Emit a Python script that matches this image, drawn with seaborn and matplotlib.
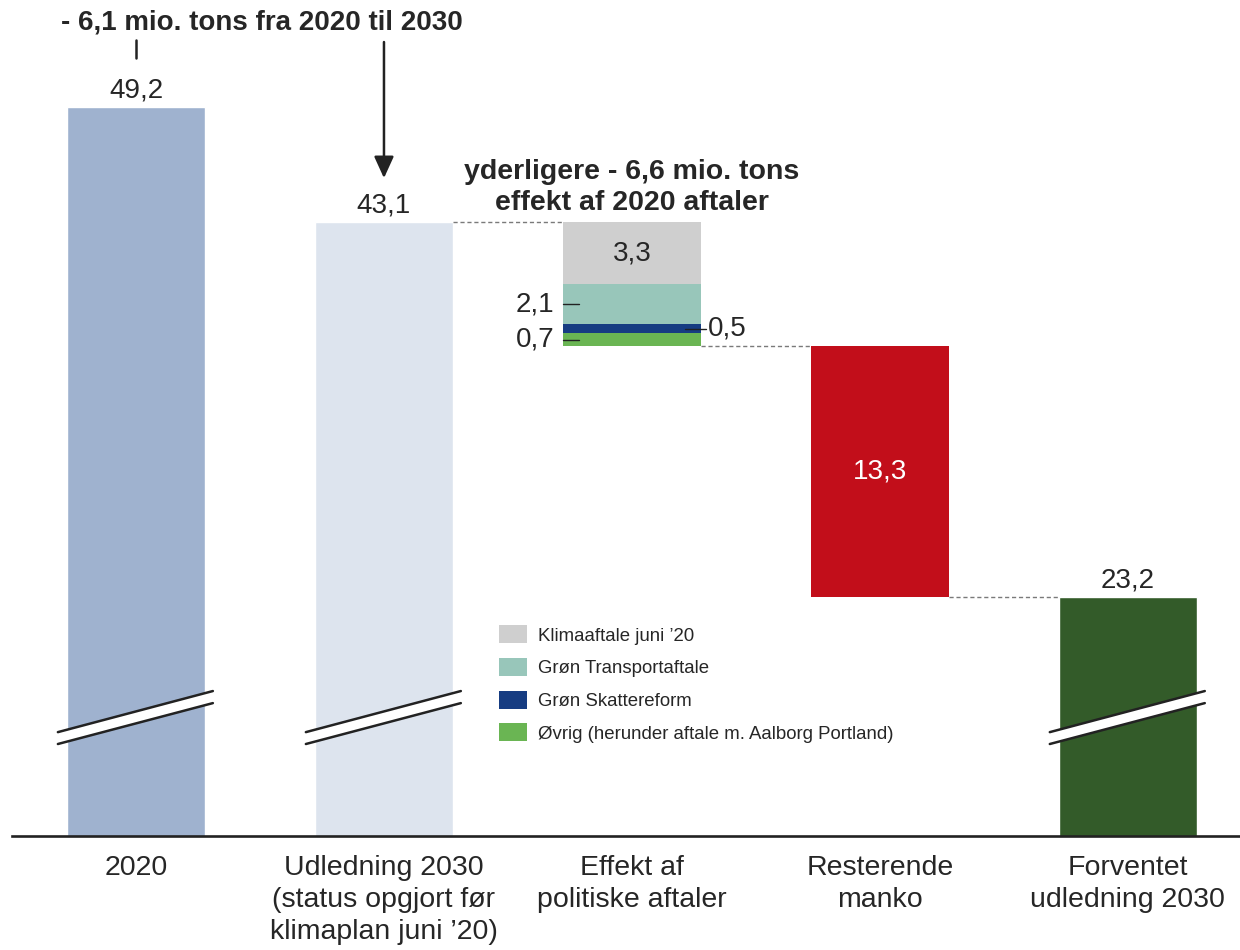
"""Vandfaldsdiagram: udledning 2020 -> forventet udledning 2030 (mio. tons CO2e)."""

import matplotlib

matplotlib.use("Agg")
import matplotlib.pyplot as plt
import pandas as pd
import seaborn as sns
from matplotlib.patches import Patch, Polygon

# --- data -----------------------------------------------------------------
categories = [
    "2020",
    "Udledning 2030\n(status opgjort før\nklimaplan juni \u201920)",
    "Effekt af\npolitiske aftaler",
    "Resterende\nmanko",
    "Forventet\nudledning 2030",
]
total_values = [49.2, 43.1, 23.2]           # 2020, 2030 før aftaler, forventet 2030
total_index = [0, 1, 4]
effect_labels = ["Klimaaftale juni \u201920", "Grøn Transportaftale",
                 "Grøn Skattereform", "Øvrig (herunder aftale m. Aalborg Portland)"]
effect_values = [3.3, 2.1, 0.5, 0.7]
manko = 13.3

total_colors = ["#9FB2CF", "#DDE4EE", "#335B29"]
effect_colors = ["#CFCFCF", "#98C6BA", "#163C82", "#6AB553"]
manko_color = "#C20E1A"
text_color = "#262626"

sns.set_theme(style="white")
plt.rcParams["font.family"] = ["Liberation Sans", "DejaVu Sans"]

fig = plt.figure(figsize=(12.4, 9.5), dpi=100)
ax = fig.add_axes([12 / 1240, 114 / 950, 1228 / 1240, 836 / 950])

BAR_W = 0.556
df = pd.DataFrame({"cat": [categories[i] for i in total_index], "value": total_values})
sns.barplot(data=df, x="cat", y="value", hue="cat", order=categories,
            palette=dict(zip(df["cat"], total_colors)), saturation=1,
            width=BAR_W, legend=False, ax=ax)

# stablede effekter (fra toppen af 2030-soejlen og nedad)
top = total_values[1]
seg_centers = []
for val, col in zip(effect_values, effect_colors):
    ax.bar(2, val, bottom=top - val, width=BAR_W, color=col, linewidth=0)
    seg_centers.append(top - val / 2)
    top -= val
effect_bottom = top
ax.bar(3, manko, bottom=effect_bottom - manko, width=BAR_W, color=manko_color, linewidth=0)

# forbindelseslinjer
levels = [(1, total_values[1]), (2, effect_bottom), (3, effect_bottom - manko)]
for i, lvl in levels:
    ax.plot([i + BAR_W / 2, i + 1 - BAR_W / 2], [lvl, lvl], color="#7a7a7a",
            lw=1, dashes=(3, 2), zorder=1)

# akse
ax.set_xlim(-0.5, 4.452)
ax.set_ylim(10.53, 54.88)
ax.set_xlabel("")
ax.set_ylabel("")
ax.set_yticks([])
ax.set_xticks(range(len(categories)), categories, fontsize=20.5, color=text_color,
              linespacing=1.28)
ax.tick_params(axis="x", length=0, pad=14)
for s in ["top", "left", "right"]:
    ax.spines[s].set_visible(False)
ax.spines["bottom"].set_color("#222222")
ax.spines["bottom"].set_linewidth(1.9)

# akse-brud
for i in total_index:
    xs = [i - 0.315, i + 0.31]
    up = [16.04, 18.22]
    lo = [15.41, 17.58]
    ax.add_patch(Polygon([(xs[0], up[0]), (xs[1], up[1]), (xs[1], lo[1]), (xs[0], lo[0])],
                         closed=True, facecolor="white", edgecolor="none", zorder=4))
    ax.plot(xs, up, color="#222222", lw=1.8, zorder=5)
    ax.plot(xs, lo, color="#222222", lw=1.8, zorder=5)

# vaerdier
VAL_FS = 20
for i, v in zip(total_index, total_values):
    ax.text(i, v + 0.5, f"{v:.1f}".replace(".", ","), ha="center", va="baseline",
            fontsize=VAL_FS, color=text_color)
ax.text(2, seg_centers[0], "3,3", ha="center", va="center", fontsize=VAL_FS, color=text_color)
ax.text(3, effect_bottom - manko / 2, "13,3", ha="center", va="center",
        fontsize=VAL_FS, color="white")
left = 2 - BAR_W / 2
right = 2 + BAR_W / 2
for k, txt in [(1, "2,1"), (3, "0,7")]:
    ax.plot([left, left + 0.065], [seg_centers[k]] * 2, color="#222222", lw=1)
    ax.text(left - 0.035, seg_centers[k], txt, ha="right", va="center",
            fontsize=VAL_FS, color=text_color)
ax.plot([right - 0.065, right + 0.02], [seg_centers[2]] * 2, color="#222222", lw=1, zorder=5)
ax.text(right + 0.03, seg_centers[2], "0,5", ha="left", va="center",
        fontsize=VAL_FS, color=text_color)

# overskrifter og pil
ax.text(0.508, 53.71, "- 6,1 mio. tons fra 2020 til 2030", ha="center", va="center",
        fontsize=20, fontweight="bold", color=text_color, clip_on=False)
ax.plot([0, 0], [52.75, 51.8], color="#222222", lw=1.8)
ax.annotate("", xy=(1, 45.43), xytext=(1, 52.65),
            arrowprops=dict(arrowstyle="-|>,head_length=1.1,head_width=0.5",
                            color="#222222", lw=1.8, shrinkA=0, shrinkB=0))
ax.text(2, 43.74, "yderligere - 6,6 mio. tons\neffekt af 2020 aftaler", ha="center",
        va="baseline", fontsize=20.5, fontweight="bold", color=text_color, linespacing=1.27)

# legende
handles = [Patch(facecolor=c, edgecolor="none") for c in effect_colors]
ax.legend(handles, effect_labels, loc="upper left", bbox_to_anchor=(0.3966, 0.252),
          frameon=False, fontsize=13.4, borderpad=0, borderaxespad=0,
          handlelength=1.5, handleheight=1.1, handletextpad=0.6, labelspacing=0.72,
          labelcolor=text_color)

fig.savefig("out.png", dpi=100)
plt.close(fig)
